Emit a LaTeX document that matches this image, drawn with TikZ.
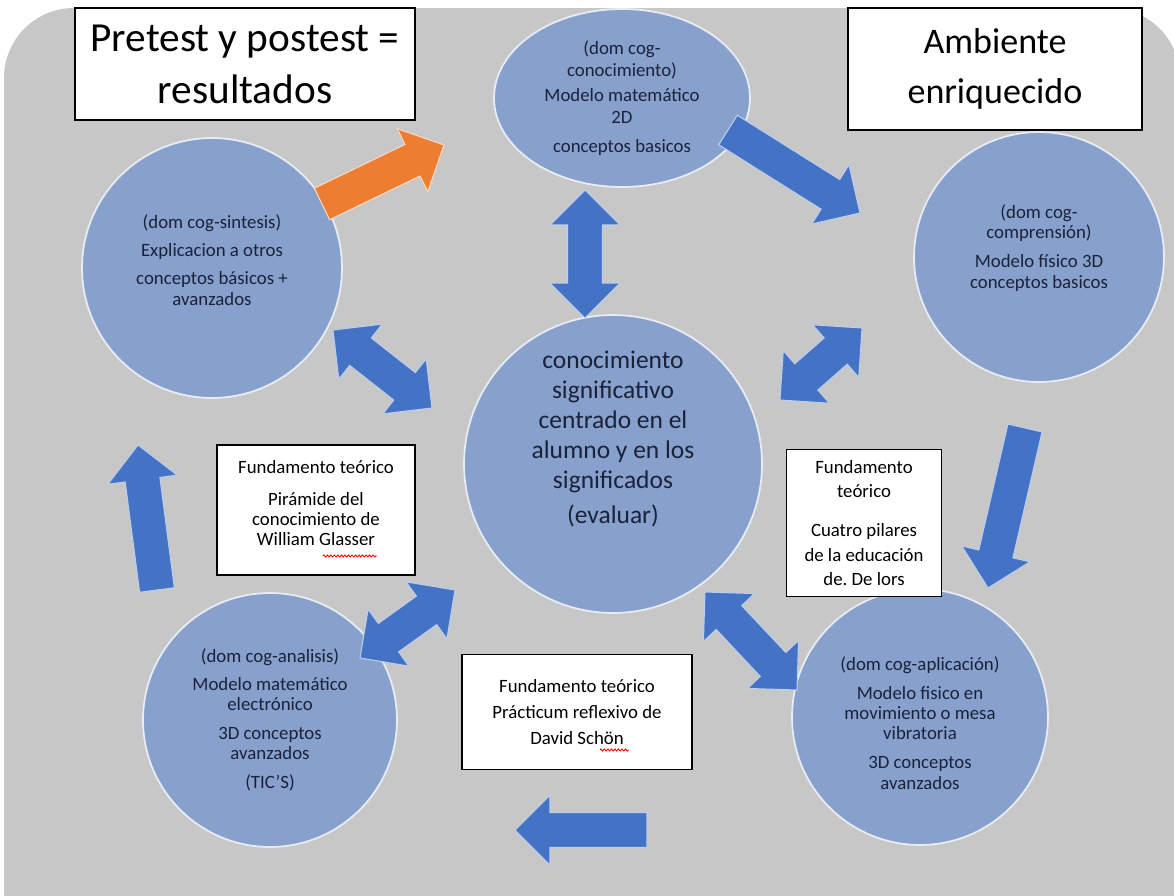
\documentclass[tikz,border=0pt]{standalone}
\usepackage{fontspec}
\setmainfont{Carlito}
\frenchspacing
\usetikzlibrary{%
  positioning,
  calc,
  shapes.geometric,
  decorations.pathmorphing,
}

\definecolor{bggray}{RGB}{199,199,199}
\definecolor{blobfill}{RGB}{136,160,204}
\definecolor{blobtext}{RGB}{26,34,58}
\definecolor{arrowblue}{RGB}{68,114,196}
\definecolor{arroworange}{RGB}{237,125,49}

% block arrow from #2 to #3
\newcommand{\blockarrow}[3][bluearrow]{%
  \coordinate (hb) at ($(#3)!0.7cm!(#2)$);
  \path[#1] ($(#2)!0.35cm!90:(#3)$) -- ($(hb)!0.35cm!90:(#3)$)
    -- ($(hb)!0.7cm!90:(#3)$) -- (#3) -- ($(hb)!0.7cm!-90:(#3)$)
    -- ($(hb)!0.35cm!-90:(#3)$) -- ($(#2)!0.35cm!-90:(#3)$) -- cycle;
}
% block arrow with a head at both ends
\newcommand{\twinarrow}[3][bluearrow]{%
  \coordinate (ha) at ($(#2)!0.7cm!(#3)$);
  \coordinate (hb) at ($(#3)!0.7cm!(#2)$);
  \path[#1] (#2) -- ($(ha)!0.7cm!90:(#3)$) -- ($(ha)!0.35cm!90:(#3)$)
    -- ($(hb)!0.35cm!90:(#3)$) -- ($(hb)!0.7cm!90:(#3)$) -- (#3)
    -- ($(hb)!0.7cm!-90:(#3)$) -- ($(hb)!0.35cm!-90:(#3)$)
    -- ($(ha)!0.35cm!-90:(#3)$) -- ($(ha)!0.7cm!-90:(#3)$) -- cycle;
}

\begin{document}
\begin{tikzpicture}[
    x=0.02cm, y=-0.02cm,
    every text node part/.style={align=center},
    blob/.style={
      % light blue disc with a pale rim
      fill=blobfill,
      draw=white!80!blobfill,
      line width=1pt,
      text=blobtext,
      inner sep=0pt,
      font=\fontsize{10.7}{11.5}\selectfont,
    },
    disc/.style={blob, circle},
    bigtxt/.style={
      text=blobtext,
      font=\fontsize{14.5}{17}\selectfont,
    },
    titlebox/.style={
      rectangle,
      fill=white,
      draw=black,
      line width=0.9pt,
      inner sep=0pt,
    },
    notebox/.style={
      titlebox,
      font=\fontsize{10.7}{11.5}\selectfont,
    },
    spellmark/.style={
      red, line width=0.5pt,
      decorate, decoration={zigzag, amplitude=0.6pt, segment length=2pt},
    },
    bluearrow/.style={fill=arrowblue, draw=arrowblue!35!white, line width=0.6pt},
    orangearrow/.style={fill=arroworange, draw=arroworange!30!white, line width=0.6pt},
  ]

  % page and grey background
  \useasboundingbox (0,0) rectangle (1174,896);
  \fill[white] (0,0) rectangle (1174,896);
  \fill[bggray, rounded corners=1.4cm] (4,960) -- (4,8) -- (1180,8) -- (1180,960) -- cycle;

  % the six discs
  \node[blob, ellipse, minimum width=5.12cm, minimum height=3.56cm] (conoc) at (622,98)
    {(dom cog-\\[1pt] conocimiento)\\[3pt] Modelo matemático\\[1pt] 2D\\[5pt] conceptos basicos};
  \node[disc, minimum size=5.2cm] (sintesis) at (212,268) {};
  \node[blob, fill=none, draw=none] (sintesisTxt) at (212,260)
    {(dom cog-sintesis)\\[4.5pt] Explicacion a otros\\[4.5pt] conceptos básicos +\\ avanzados};
  \node[disc, minimum size=5cm] (compren) at (1039,257) {};
  \node[blob, fill=none, draw=none] (comprenTxt) at (1039,248)
    {(dom cog-\\ comprensión)\\[5pt] Modelo físico 3D\\ conceptos basicos};
  \node[disc, minimum size=5.96cm] (centro) at (613,464) {};
  \node[bigtxt] (centroTxt) at (613,439)
    {conocimiento\\ significativo\\ centrado en el\\ alumno y en los\\ significados\\[3pt] (evaluar)};
  \node[disc, minimum size=5.08cm] (analisis) at (270,720)
    {(dom cog-analisis)\\[4.5pt] Modelo matemático\\ electrónico\\[5pt] 3D conceptos\\ avanzados\\[5pt] (TIC'S)};
  \node[disc, minimum size=5.12cm] (aplica) at (920,717) {};
  \node[blob, fill=none, draw=none] (aplicaTxt) at (920,723)
    {(dom cog-aplicación)\\[5pt] Modelo fisico en\\ movimiento o mesa\\ vibratoria\\[5pt] 3D conceptos\\ avanzados};

  % arrow end points
  \coordinate (orangeS) at (322,204);
  \coordinate (orangeE) at (444,145);
  \coordinate (topS) at (728,130);
  \coordinate (topE) at (860,213);
  \coordinate (vertA) at (585,190);
  \coordinate (vertB) at (585,318);
  \coordinate (leftA) at (333,330);
  \coordinate (leftB) at (432,408);
  \coordinate (rightA) at (780,400);
  \coordinate (rightB) at (862,328);
  \coordinate (downS) at (1025,428);
  \coordinate (downE) at (988,588);
  \coordinate (upS) at (157,590);
  \coordinate (upE) at (138,445);
  \coordinate (lowLA) at (360,658);
  \coordinate (lowLB) at (455,590);
  \coordinate (lowRA) at (705,592);
  \coordinate (lowRB) at (797,690);
  \coordinate (backS) at (647,830);
  \coordinate (backE) at (515,830);

  \blockarrow[orangearrow]{orangeS}{orangeE}
  \blockarrow{topS}{topE}
  \blockarrow{downS}{downE}
  \blockarrow{backS}{backE}
  \blockarrow{upS}{upE}
  \twinarrow{vertA}{vertB}
  \twinarrow{leftA}{leftB}
  \twinarrow{rightA}{rightB}
  \twinarrow{lowLA}{lowLB}
  \twinarrow{lowRA}{lowRB}

  % white boxes
  \node[titlebox, minimum width=6.8cm, minimum height=2.24cm,
        font=\fontsize{23.5}{29.5}\selectfont] (pretest) at (245,64)
    {Pretest y postest =\\ resultados};
  \node[titlebox, minimum width=5.88cm, minimum height=2.44cm,
        font=\fontsize{20.5}{28.5}\selectfont] (ambiente) at (995,69)
    {Ambiente\\ enriquecido};
  \node[notebox, minimum width=3.96cm, minimum height=2.6cm] (glasser) at (316,510) {};
  \node[notebox, draw=none, fill=none] (glasserTxt) at (316,503)
    {Fundamento teórico\\[7pt] Pirámide del\\ conocimiento de\\ William Glasser};
  \node[notebox, minimum width=3.1cm, minimum height=2.94cm,
        font=\fontsize{10.7}{14}\selectfont] (pilares) at (864,523)
    {Fundamento\\ teórico\\[8pt] Cuatro pilares\\ de la educación\\ de. De lors};
  \node[notebox, minimum width=4.6cm, minimum height=2.3cm,
        font=\fontsize{10.7}{15}\selectfont] (schon) at (577,712)
    {Fundamento teórico\\ Prácticum reflexivo de\\ David Schön};

  % spell checker marks
  \draw[spellmark] (323,556) -- (377,556);
  \draw[spellmark] (600,750) -- (629,750);
\end{tikzpicture}
\end{document}
